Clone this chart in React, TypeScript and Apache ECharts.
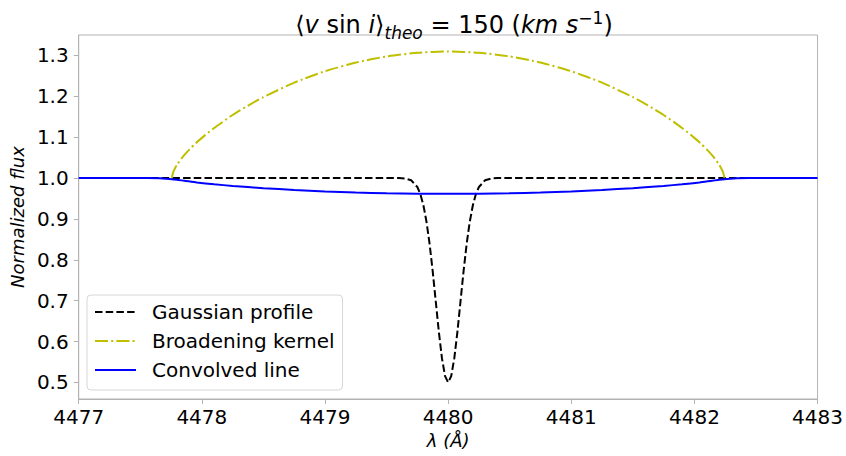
import React, { useEffect, useRef } from "react";
import * as echarts from "echarts";

// Gaussian absorption profile (black dashed)
const gaussWave = [4477.5, 4479.5, 4479.6, 4479.65, 4479.7, 4479.75, 4479.775, 4479.8, 4479.825, 4479.85, 4479.875, 4479.9, 4479.925, 4479.95, 4479.975, 4480.0,
  4480.025, 4480.05, 4480.075, 4480.1, 4480.125, 4480.15, 4480.175, 4480.2, 4480.225, 4480.25, 4480.3, 4480.35, 4480.4, 4480.5, 4482.5];
const gaussFlux = [1.0, 1.0, 0.99983, 0.99891, 0.99445, 0.978, 0.9602, 0.9323, 0.8918, 0.8377, 0.7711, 0.6967, 0.6226, 0.5588, 0.5154, 0.5,
  0.5154, 0.5588, 0.6226, 0.6967, 0.7711, 0.8377, 0.8918, 0.9323, 0.9602, 0.978, 0.99445, 0.99891, 0.99983, 1.0, 1.0];

// Rotational broadening kernel (yellow dash-dot), shown as 1 + G
const kernelWave = [4477.7585, 4477.76, 4477.77, 4477.8, 4477.85, 4477.9, 4477.95, 4478.0, 4478.1, 4478.25, 4478.4, 4478.5, 4478.75, 4479.0, 4479.25, 4479.5, 4479.75, 4480.0,
  4480.25, 4480.5, 4480.75, 4481.0, 4481.25, 4481.5, 4481.6, 4481.75, 4481.9, 4482.0, 4482.05, 4482.1, 4482.15, 4482.2, 4482.23, 4482.24, 4482.2415];
const kernelFlux = [1.0, 1.0054, 1.0161, 1.0333, 1.0535, 1.0701, 1.0848, 1.0982, 1.1224, 1.1541, 1.1815, 1.1979, 1.2332, 1.2611, 1.2824, 1.2974, 1.3063, 1.3093,
  1.3063, 1.2974, 1.2824, 1.2611, 1.2332, 1.1979, 1.1815, 1.1541, 1.1224, 1.0982, 1.0848, 1.0701, 1.0535, 1.0333, 1.0161, 1.0054, 1.0];

// Convolved line (blue solid)
const convWave = [4477.0, 4477.5585, 4477.6585, 4477.7085, 4477.7585, 4477.8085, 4477.8585, 4477.9585, 4478.1, 4478.25, 4478.5, 4478.75, 4479.0, 4479.25, 4479.5, 4479.75, 4480.0,
  4480.25, 4480.5, 4480.75, 4481.0, 4481.25, 4481.5, 4481.75, 4481.9, 4482.0415, 4482.1415, 4482.1915, 4482.2415, 4482.2915, 4482.3415, 4482.4415, 4483.0];
const convFlux = [1.0, 0.99992, 0.99929, 0.99841, 0.99707, 0.99519, 0.99327, 0.98906, 0.98465, 0.98069, 0.9752, 0.97078, 0.96728, 0.96461, 0.96273, 0.96161, 0.96123,
  0.96161, 0.96273, 0.96461, 0.96728, 0.97078, 0.9752, 0.98069, 0.98465, 0.98906, 0.99327, 0.99519, 0.99707, 0.99841, 0.99929, 0.99992, 1.0];

const yTicks = [0.5, 0.6, 0.7, 0.8, 0.9, 1.0, 1.1, 1.2, 1.3];
const seriesNames = ["Gaussian profile", "Broadening kernel", "Convolved line"];

const zip = (xs: number[], ys: number[]) => xs.map((x, i) => [x, ys[i]]);

const FONT = "DejaVu Sans";
const SPINE = "#b3b3b3";

export default function App() {
  const ref = useRef<HTMLDivElement>(null);
  useEffect(() => {
    if (!ref.current) return;
    const chart = echarts.init(ref.current, undefined, { renderer: "svg" });
    const base = { fontFamily: FONT, color: "#000", fontWeight: "normal", lineHeight: 32 };
    chart.setOption({
      animation: false,
      backgroundColor: "#ffffff",
      textStyle: { fontFamily: FONT },
      title: {
        text: "{n|⟨}{i|v}{n| sin }{i|i}{n|⟩}{sub|theo}{n| = 150 (}{i|km s}{sup|−1}{n|)}",
        left: 449,
        top: 4,
        textAlign: "center",
        textStyle: {
          fontWeight: "normal",
          rich: {
            n: { ...base, fontSize: 24, verticalAlign: "middle" },
            i: { ...base, fontSize: 24, fontStyle: "italic", verticalAlign: "middle" },
            sub: { ...base, fontSize: 17, fontStyle: "italic", verticalAlign: "bottom" },
            sup: { ...base, fontSize: 17, verticalAlign: "top" },
          },
        },
      },
      grid: {
        left: 77,
        right: 25,
        top: 35,
        bottom: 57,
        show: true,
        borderColor: SPINE,
        borderWidth: 1,
        backgroundColor: "transparent",
        containLabel: false,
      },
      legend: {
        orient: "vertical",
        left: 87,
        top: 295,
        data: seriesNames,
        itemWidth: 41,
        itemHeight: 20,
        itemGap: 9,
        padding: [7, 8, 10, 7],
        borderColor: "#d6d6d6",
        borderWidth: 1,
        borderRadius: 4,
        backgroundColor: "rgba(255,255,255,0.85)",
        itemStyle: { opacity: 0 },
        textStyle: { fontFamily: FONT, fontSize: 20, color: "#000", padding: [0, 0, 0, 11] },
      },
      xAxis: {
        type: "value",
        min: 4477,
        max: 4483,
        interval: 1,
        name: "λ (Å)",
        nameLocation: "middle",
        nameGap: 30,
        nameTextStyle: { fontFamily: FONT, fontSize: 18, fontStyle: "italic", color: "#000" },
        axisLine: { show: true, lineStyle: { color: SPINE, width: 1 } },
        axisTick: { show: true, length: 5, lineStyle: { color: SPINE } },
        axisLabel: { fontFamily: FONT, fontSize: 20, color: "#000", margin: 8, formatter: (v: number) => String(v) },
        splitLine: { show: false },
      },
      yAxis: {
        type: "value",
        min: 0.4595,
        max: 1.3498,
        name: "Normalized flux",
        nameLocation: "middle",
        nameGap: 48,
        nameTextStyle: { fontFamily: FONT, fontSize: 18, fontStyle: "italic", color: "#000" },
        axisLine: { show: true, lineStyle: { color: SPINE, width: 1 } },
        axisTick: { show: true, length: 5, lineStyle: { color: SPINE }, customValues: yTicks },
        axisLabel: { fontFamily: FONT, fontSize: 20, color: "#000", margin: 10, customValues: yTicks, formatter: (v: number) => v.toFixed(1) },
        splitLine: { show: false },
      },
      series: [
        {
          name: seriesNames[0],
          type: "line",
          data: zip(gaussWave, gaussFlux),
          symbol: "none",
          lineStyle: { color: "#000000", width: 2, type: [7.5, 3.2] },
          itemStyle: { color: "#000000" },
          z: 2,
        },
        {
          name: seriesNames[1],
          type: "line",
          data: zip(kernelWave, kernelFlux),
          symbol: "none",
          smooth: 0.2,
          lineStyle: { color: "#bfbf00", width: 2, type: [13, 3.2, 2, 3.2] },
          itemStyle: { color: "#bfbf00" },
          z: 3,
        },
        {
          name: seriesNames[2],
          type: "line",
          data: zip(convWave, convFlux),
          symbol: "none",
          smooth: 0.2,
          lineStyle: { color: "#0000ff", width: 2, type: "solid" },
          itemStyle: { color: "#0000ff" },
          z: 4,
        },
      ],
    });
    return () => chart.dispose();
  }, []);
  return <div ref={ref} style={{ position: "fixed", left: 0, top: 0, width: 846, height: 456 }} />;
}
